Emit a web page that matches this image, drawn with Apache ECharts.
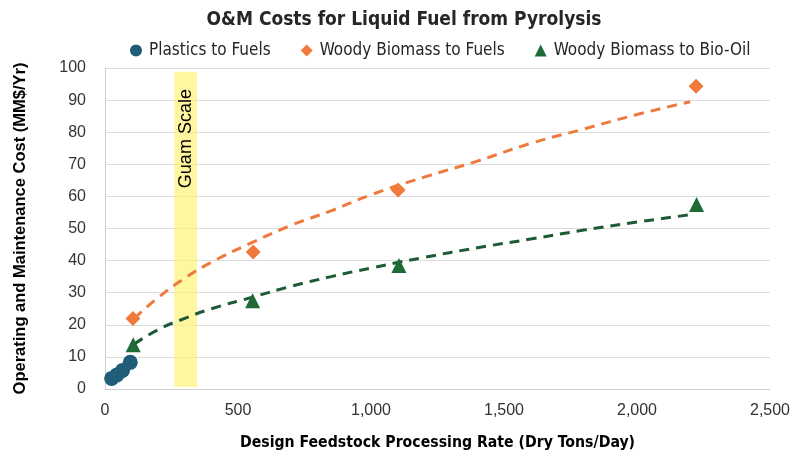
<!DOCTYPE html>
<html>
<head>
<meta charset="utf-8">
<script src="https://cdn.jsdelivr.net/npm/echarts@6/dist/echarts.min.js"></script>
<style>
  html, body { margin: 0; padding: 0; background: #fff; }
  #main { width: 808px; height: 458px; }
</style>
</head>
<body>
<div id="main"></div>
<script>
// 数据点 (x = 吨/天, y = MM$/Yr)
const plasticsFuels = [[25, 3.3], [45, 4.4], [66, 5.8], [95, 8.3]]
const woodyFuels = [[105, 22], [557, 42.7], [1102, 62], [2222, 94.3]]
const woodyBioOil = [[106, 13.8], [555, 27.5], [1105, 38.5], [2224, 57.5]]

// 趋势线
const fuelsTrend = [[110, 22], [200, 28.5], [300, 34.5], [400, 39.5], [550, 45.5], [700, 51], [850, 55.5], [1000, 60.5], [1200, 66], [1400, 71], [1600, 76.5], [1800, 81], [2000, 85.5], [2200, 89.5]]
const bioOilTrend = [[110, 14], [200, 18.5], [300, 22], [400, 25], [550, 28.5], [700, 32], [850, 35], [1000, 37.7], [1200, 41], [1400, 44], [1600, 46.7], [1800, 49.5], [2000, 52], [2200, 54.3]]

// Guam 范围
const guamRange = [260, 346]
const guamY = [0.6, 98.8]

const font = 'Liberation Sans, Arial, sans-serif'
const narrow = '"DejaVu Sans Condensed", sans-serif'
const myChart = echarts.init(document.querySelector('#main'))

const option = {
  animation: false,
  title: {
    text: 'O&M Costs for Liquid Fuel from Pyrolysis',
    left: 'center',
    top: 6,
    textStyle: { fontFamily: narrow, fontSize: 19, fontWeight: 'bold', color: '#262626' }
  },
  legend: {
    top: 37,
    left: 125,
    itemGap: 30,
    itemWidth: 12,
    itemHeight: 12,
    textStyle: { fontFamily: narrow, fontSize: 17, color: '#262626', padding: [0, 0, 0, 2] },
    data: [
      { name: 'Plastics to Fuels', icon: 'circle' },
      { name: 'Woody Biomass to Fuels', icon: 'diamond' },
      { name: 'Woody Biomass to Bio-Oil', icon: 'triangle' }
    ]
  },
  grid: { left: 105, right: 38, top: 68, bottom: 69 },
  xAxis: {
    type: 'value',
    min: 0,
    max: 2500,
    interval: 500,
    name: 'Design Feedstock Processing Rate (Dry Tons/Day)',
    nameLocation: 'middle',
    nameGap: 46,
    nameTextStyle: { fontFamily: narrow, fontSize: 15.7, fontWeight: 'bold', color: '#000' },
    axisLine: { lineStyle: { color: '#d0d0d0' } },
    axisTick: { show: false },
    splitLine: { show: false },
    axisLabel: {
      fontFamily: font, fontSize: 16, color: '#333', margin: 14,
      formatter: v => v.toLocaleString('en-US')
    }
  },
  yAxis: {
    type: 'value',
    min: 0,
    max: 100,
    interval: 10,
    name: 'Operating and Maintenance Cost (MM$/Yr)',
    nameLocation: 'middle',
    nameGap: 76,
    nameTextStyle: { fontFamily: font, fontSize: 16.5, fontWeight: 'bold', color: '#000' },
    axisLine: { show: true, lineStyle: { color: '#d0d0d0' } },
    axisTick: { show: false },
    splitLine: { lineStyle: { color: '#dcdcdc' } },
    axisLabel: { fontFamily: font, fontSize: 16, color: '#333', margin: 19 }
  },
  series: [
    {
      name: 'Guam',
      type: 'line',
      data: [],
      silent: true,
      markArea: {
        silent: true,
        itemStyle: { color: 'rgba(255, 243, 120, 0.7)' },
        data: [[{ coord: [guamRange[0], guamY[0]] }, { coord: [guamRange[1], guamY[1]] }]]
      }
    },
    {
      name: 'fuelsTrend',
      type: 'line',
      data: fuelsTrend,
      smooth: true,
      showSymbol: false,
      lineStyle: { color: '#ee7a3e', width: 3, type: [10, 7] },
      z: 3
    },
    {
      name: 'bioOilTrend',
      type: 'line',
      data: bioOilTrend,
      smooth: true,
      showSymbol: false,
      lineStyle: { color: '#1d5a36', width: 3, type: [10, 7] },
      z: 3
    },
    {
      name: 'Plastics to Fuels',
      type: 'scatter',
      symbol: 'circle',
      symbolSize: 15,
      itemStyle: { color: '#1f5d78', opacity: 1 },
      data: plasticsFuels,
      z: 4
    },
    {
      name: 'Woody Biomass to Fuels',
      type: 'scatter',
      symbol: 'diamond',
      symbolSize: 15,
      itemStyle: { color: '#f07a3c', opacity: 1 },
      data: woodyFuels,
      z: 4
    },
    {
      name: 'Woody Biomass to Bio-Oil',
      type: 'scatter',
      symbol: 'triangle',
      symbolSize: 15,
      itemStyle: { color: '#1e6b36', opacity: 1 },
      data: woodyBioOil,
      z: 4
    }
  ]
}
myChart.setOption(option)

// Guam Scale 文字
const pos = myChart.convertToPixel('grid', [(guamRange[0] + guamRange[1]) / 2, 78])
myChart.setOption({
  graphic: [{
    type: 'text',
    x: pos[0],
    y: pos[1],
    rotation: Math.PI / 2,
    z: 10,
    style: {
      text: 'Guam Scale',
      fontFamily: font,
      fontSize: 18,
      fill: '#000',
      align: 'center',
      verticalAlign: 'middle'
    }
  }]
})
</script>
</body>
</html>
